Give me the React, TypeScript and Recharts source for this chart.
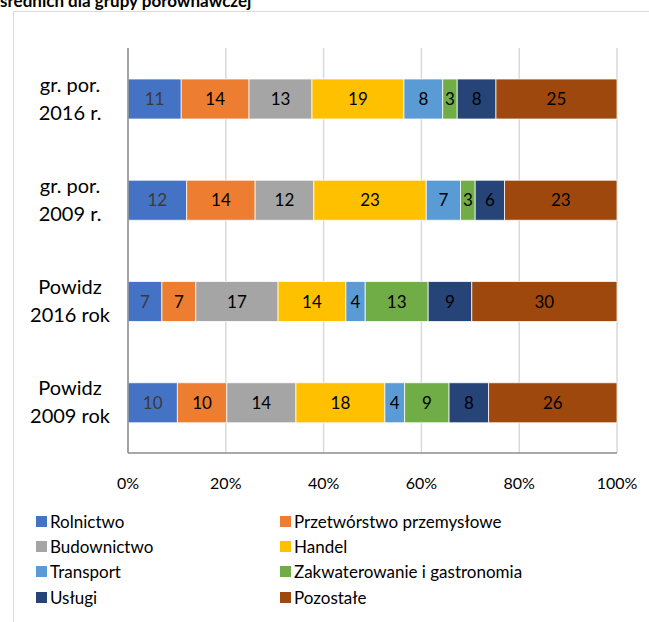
import * as React from "react"
import { Bar, BarChart, CartesianGrid, LabelList, XAxis, YAxis } from "recharts"

// rows, top to bottom
const categories = ["gr. por.\n2016 r.", "gr. por.\n2009 r.", "Powidz\n2016 rok", "Powidz\n2009 rok"]

const rolnictwo = [11, 12, 7, 10]
const przetworstwo = [14, 14, 7, 10]
const budownictwo = [13, 12, 17, 14]
const handel = [19, 23, 14, 18]
const transport = [8, 7, 4, 4]
const zakwaterowanie = [3, 3, 13, 9]
const uslugi = [8, 6, 9, 8]
const pozostale = [25, 23, 30, 26]

const xTicks = [0, 0.2, 0.4, 0.6, 0.8, 1]

const series = [
  { key: "Rolnictwo", values: rolnictwo, color: "#4472C4", label: "#3a3a3a" },
  { key: "Przetwórstwo przemysłowe", values: przetworstwo, color: "#ED7D31", label: "#000" },
  { key: "Budownictwo", values: budownictwo, color: "#A5A5A5", label: "#000" },
  { key: "Handel", values: handel, color: "#FFC000", label: "#000" },
  { key: "Transport", values: transport, color: "#5B9BD5", label: "#000" },
  { key: "Zakwaterowanie i gastronomia", values: zakwaterowanie, color: "#70AD47", label: "#000" },
  { key: "Usługi", values: uslugi, color: "#264478", label: "#000" },
  { key: "Pozostałe", values: pozostale, color: "#9E480E", label: "#000" },
]

const data = categories.map((name, i) => {
  const row: Record<string, any> = { name }
  series.forEach((s) => {
    row[s.key] = s.values[i]
  })
  return row
})

const FONT = "Lato, 'Noto Sans', sans-serif"

const CategoryTick = ({ x, y, payload }: any) => {
  const lines = String(payload.value).split("\n")
  return (
    <text x={x - 50} textAnchor="middle" fontFamily={FONT} fontSize={20} fill="#000">
      <tspan x={x - 50} y={y - 7}>{lines[0]}</tspan>
      <tspan x={x - 50} y={y + 21}>{lines[1]}</tspan>
    </text>
  )
}

const PercentTick = ({ x, y, payload }: any) => (
  <text x={x} y={y + 28} textAnchor="middle" fontFamily={FONT} fontSize={16} fill="#000">
    {Math.round(payload.value * 100) + "%"}
  </text>
)

export default function App() {
  return (
    <div style={{ position: "absolute", top: 0, left: 0, width: 649, height: 622, overflow: "hidden", background: "#fff", fontFamily: FONT }}>
      <div
        style={{
          position: "absolute",
          left: 0,
          top: -8,
          fontSize: 17,
          lineHeight: "17px",
          fontWeight: 700,
          whiteSpace: "nowrap",
        }}
      >
        średnich dla grupy porównawczej
      </div>
      <div
        style={{
          position: "absolute",
          left: 13,
          top: 11,
          width: 660,
          height: 640,
          borderTop: "1px solid #d9d9d9",
          borderLeft: "1px solid #d9d9d9",
        }}
      />
      <div style={{ position: "absolute", left: 0, top: 0 }}>
        <BarChart
          width={649}
          height={500}
          data={data}
          layout="vertical"
          stackOffset="expand"
          barSize={40}
          margin={{ top: 48, right: 32, left: 18, bottom: 7 }}
        >
          <CartesianGrid horizontal={false} stroke="#d9d9d9" strokeWidth={1.5} />
          <XAxis
            type="number"
            domain={[0, 1]}
            ticks={xTicks}
            height={40}
            tick={<PercentTick />}
            tickLine={false}
            axisLine={{ stroke: "#8c8c8c", strokeWidth: 1.5 }}
          />
          <YAxis
            type="category"
            dataKey="name"
            width={110}
            tick={<CategoryTick />}
            tickLine={false}
            axisLine={{ stroke: "#8c8c8c", strokeWidth: 1.5 }}
          />
          {series.map((s) => (
            <Bar
              key={s.key}
              dataKey={s.key}
              stackId="a"
              fill={s.color}
              stroke="#ffffff"
              strokeWidth={0.75}
              isAnimationActive={false}
            >
              <LabelList
                dataKey={s.key}
                position="center"
                fill={s.label}
                fontSize={17}
                fontFamily={FONT}
              />
            </Bar>
          ))}
        </BarChart>
      </div>
      {series.map((s, i) => {
        const col = i % 2
        const row = Math.floor(i / 2)
        const cy = 521 + row * 25.4
        return (
          <div
            key={s.key}
            style={{
              position: "absolute",
              left: col === 0 ? 36 : 280,
              top: cy - 10,
              height: 20,
              display: "flex",
              alignItems: "center",
              fontSize: 17,
              whiteSpace: "nowrap",
              color: "#000",
            }}
          >
            <span style={{ width: 11, height: 11, background: s.color, marginRight: 3, display: "inline-block" }} />
            {s.key}
          </div>
        )
      })}
    </div>
  )
}
